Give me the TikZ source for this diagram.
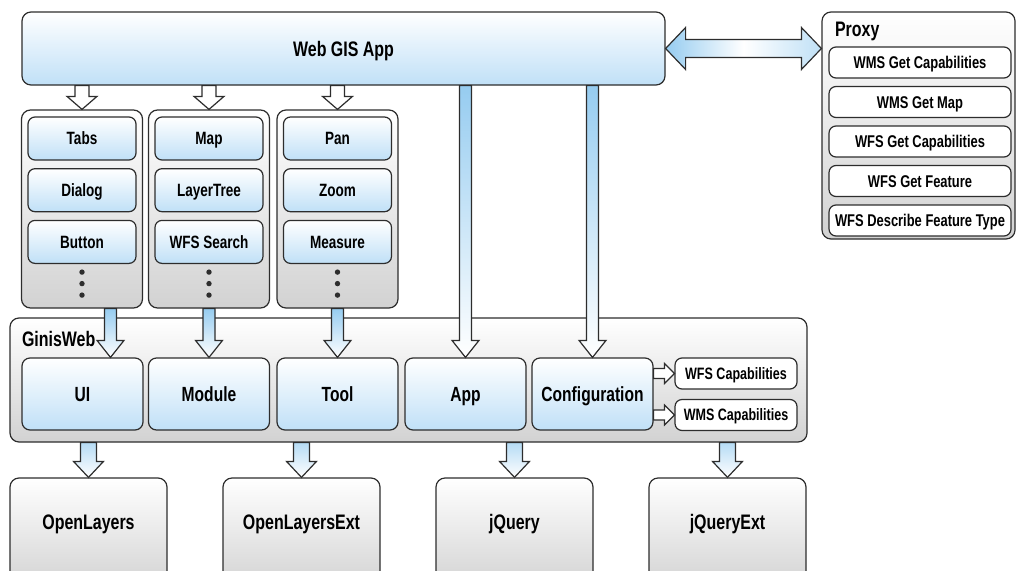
\documentclass[tikz,border=0pt]{standalone}
\usepackage{fontspec}
\setmainfont[FakeStretch=0.76]{Liberation Sans}
\usetikzlibrary{positioning, calc}

\definecolor{linecol}{RGB}{45,45,45}
\definecolor{boxblue}{RGB}{192,224,247}
\definecolor{boxgray}{RGB}{210,210,210}
\definecolor{arrowblue}{RGB}{150,204,240}

\tikzset{
  bluebox/.style={draw=linecol, line width=1.2pt, rounded corners=8pt,
    top color=white, bottom color=boxblue, inner sep=0pt,
    text height=14.7pt, text depth=0pt,
    font=\bfseries\fontsize{20.5}{22}\selectfont},
  graybox/.style={draw=linecol, line width=1.2pt, rounded corners=9pt,
    top color=white, bottom color=boxgray, inner sep=0pt},
  itembox/.style={bluebox, minimum width=108pt, minimum height=43pt,
    rounded corners=7pt, text height=12.7pt,
    font=\bfseries\fontsize{17.8}{20}\selectfont},
  capbox/.style={draw=linecol, line width=1.2pt, rounded corners=7pt,
    fill=white, inner sep=0pt, minimum width=122pt, minimum height=31pt,
    text height=11.8pt, text depth=0pt,
    font=\bfseries\fontsize{16.5}{18}\selectfont},
  proxyitem/.style={capbox, minimum width=182pt, text height=12.2pt,
    font=\bfseries\fontsize{17}{20}\selectfont},
  title/.style={font=\bfseries\fontsize{21}{24}\selectfont},
  blk/.style={draw=linecol, line width=1.2pt, line join=miter},
}

% block arrows: [style]{x point}{from}{to}
\newcommand{\downblk}[4][]{%
  \path[blk,#1] let \p1=#2, \p2=#3, \p3=#4 in
    (\x1-\shaftw,\y2) -- (\x1+\shaftw,\y2) -- (\x1+\shaftw,\y3+\headl)
    -- (\x1+\headw,\y3+\headl) -- (\x1,\y3) -- (\x1-\headw,\y3+\headl)
    -- (\x1-\shaftw,\y3+\headl) -- cycle;}
\newcommand{\rightblk}[3][]{%
  \path[blk,#1] let \p1=#2, \p2=#3 in
    (\x1,\y2+\shaftw) -- (\x2-\headl,\y2+\shaftw) -- (\x2-\headl,\y2+\headw)
    -- (\x2,\y2) -- (\x2-\headl,\y2-\headw) -- (\x2-\headl,\y2-\shaftw)
    -- (\x1,\y2-\shaftw) -- cycle;}
\newcommand{\dblblk}[3][]{%
  \path[blk,#1] let \p1=#2, \p2=#3 in
    (\x1,\y1) -- (\x1+\headl,\y1+\headw) -- (\x1+\headl,\y1+\shaftw)
    -- (\x2-\headl,\y1+\shaftw) -- (\x2-\headl,\y1+\headw) -- (\x2,\y1)
    -- (\x2-\headl,\y1-\headw) -- (\x2-\headl,\y1-\shaftw)
    -- (\x1+\headl,\y1-\shaftw) -- (\x1+\headl,\y1-\headw) -- cycle;}

\begin{document}
\begin{tikzpicture}[x=1pt, y=-1pt]
  \useasboundingbox (0,0) rectangle (1016,570);
  \clip (0,0) rectangle (1016,570);

  % top application
  \node[bluebox, title, minimum width=643pt, minimum height=73pt,
    rounded corners=9pt, text height=15pt] (webgis) at (343.5,48.5) {Web GIS App};

  % proxy
  \node[graybox, minimum width=193pt, minimum height=227pt] (proxy)
    at (918.5,125.5) {};
  \node[title, anchor=west] (proxylbl) at (831.5,31) {Proxy};
  \node[proxyitem] (wmsgetcaps) at (920,62.5) {WMS Get Capabilities};
  \node[proxyitem, below=7.3pt of wmsgetcaps] (wmsgetmap) {WMS Get Map};
  \node[proxyitem, below=7.3pt of wmsgetmap] (wfsgetcaps) {WFS Get Capabilities};
  \node[proxyitem, below=7.3pt of wfsgetcaps] (wfsgetfeat) {WFS Get Feature};
  \node[proxyitem, below=7.3pt of wfsgetfeat] (wfsdescr) {WFS Describe Feature Type};

  % component columns
  \foreach \x/\n in {82/col1, 209/col2, 337.5/col3}
    \node[graybox, minimum width=121pt, minimum height=198pt] (\n) at (\x,209) {};

  \node[itembox, below=7pt of col1.north] (tabs) {Tabs};
  \node[itembox, below=7.5pt of tabs] (dialog) {Dialog};
  \node[itembox, below=7.5pt of dialog] (button) {Button};

  \node[itembox, below=7pt of col2.north] (map) {Map};
  \node[itembox, below=7.5pt of map] (layertree) {LayerTree};
  \node[itembox, below=7.5pt of layertree] (wfssearch) {WFS Search};

  \node[itembox, below=7pt of col3.north] (pan) {Pan};
  \node[itembox, below=7.5pt of pan] (zoom) {Zoom};
  \node[itembox, below=7.5pt of zoom] (measure) {Measure};

  \foreach \c in {col1, col2, col3}
    \foreach \dy in {-36.5, -25, -13.5}
      \fill[linecol] ($(\c.south)+(0,\dy)$) circle (2.7pt);

  % GinisWeb
  \node[graybox, minimum width=797pt, minimum height=124pt] (ginis)
    at (408.5,380) {};
  \node[title, anchor=west] (ginislbl) at (18.5,339) {GinisWeb};
  \foreach \x/\n/\t in {82.5/ui/UI, 209/module/Module, 337.5/tool/Tool,
                        465.5/app/App, 592.5/config/Configuration}
    \node[bluebox, minimum width=121pt, minimum height=72pt] (\n) at (\x,394) {\t};
  \node[capbox] (wfscap) at (736,373.5) {WFS Capabilities};
  \node[capbox] (wmscap) at (736,415) {WMS Capabilities};

  % libraries
  \foreach \x/\n/\t in {88.5/openlayers/OpenLayers, 301.5/olext/OpenLayersExt,
                        514.5/jquery/jQuery, 727.5/jqext/jQueryExt}
    \node[graybox, minimum width=157pt, minimum height=112pt, text height=15pt,
      text depth=24pt, font=\bfseries\fontsize{21}{24}\selectfont] (\n)
      at (\x,534) {\t};

  % arrows
  \def\shaftw{7pt}\def\headw{15pt}\def\headl{13pt}
  \foreach \c in {col1, col2, col3}
    \downblk[fill=white]{(\c.north)}{(webgis.south)}{(\c.north)};

  \def\shaftw{6pt}\def\headw{13.5pt}\def\headl{17pt}
  \downblk[top color=arrowblue, bottom color=white]{([xshift=28pt]ui.north)}{(col1.south)}{(ui.north)};
  \downblk[top color=arrowblue, bottom color=white]{(module.north)}{(col2.south)}{(module.north)};
  \downblk[top color=arrowblue, bottom color=white]{(tool.north)}{(col3.south)}{(tool.north)};
  \downblk[top color=arrowblue, bottom color=white]{(app.north)}{(webgis.south)}{(app.north)};
  \downblk[top color=arrowblue, bottom color=white]{(config.north)}{(webgis.south)}{(config.north)};

  \def\shaftw{8pt}\def\headw{15pt}\def\headl{16pt}
  \downblk[top color=arrowblue!70, bottom color=white]{(openlayers.north)}{(ginis.south)}{(openlayers.north)};
  \downblk[top color=arrowblue!70, bottom color=white]{(olext.north)}{(ginis.south)}{(olext.north)};
  \downblk[top color=arrowblue!70, bottom color=white]{(jquery.north)}{(ginis.south)}{(jquery.north)};
  \downblk[top color=arrowblue!70, bottom color=white]{(jqext.north)}{(ginis.south)}{(jqext.north)};

  \def\shaftw{5pt}\def\headw{10pt}\def\headl{10pt}
  \rightblk[fill=white]{(config.east)}{(wfscap.west)};
  \rightblk[fill=white]{(config.east)}{(wmscap.west)};

  \def\shaftw{9pt}\def\headw{21pt}\def\headl{20pt}
  \dblblk[left color=arrowblue, right color=arrowblue!60,
    middle color=white]{(webgis.east)}{(webgis.east -| proxy.west)};
\end{tikzpicture}
\end{document}
